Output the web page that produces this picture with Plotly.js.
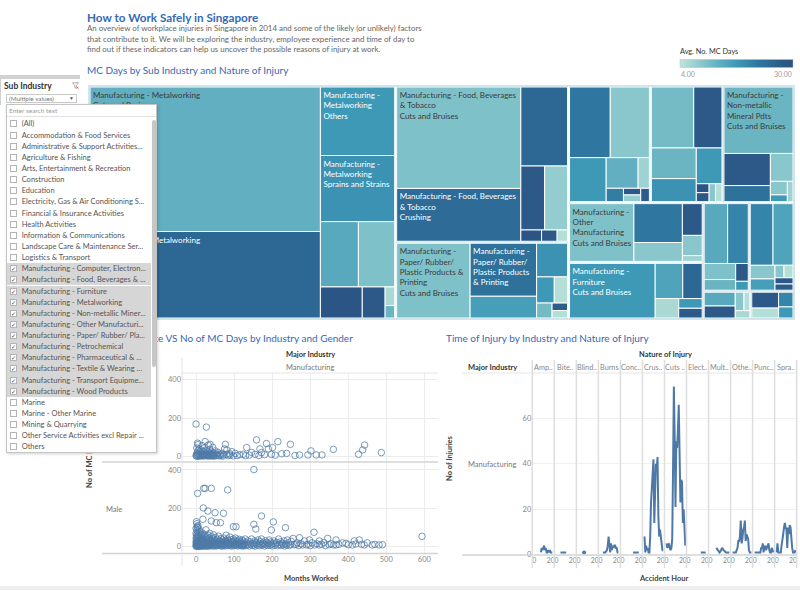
<!DOCTYPE html>
<html>
<head>
<meta charset="utf-8">
<title>How to Work Safely in Singapore</title>
<script src="https://cdn.plot.ly/plotly-3.0.1.min.js"></script>
<style>
 html,body{margin:0;padding:0;background:#fff;}
 #chart{position:absolute;left:0;top:0;width:800px;height:590px;}
 .flt{position:absolute;font-family:Lato,'Open Sans',sans-serif;}
 #fltStrip{left:0;top:75px;width:80px;height:4px;background:#d2d2d2;}
 #fltHead{left:0;top:79px;width:80px;height:26px;background:#fff;border-left:1px solid #d0d0d0;box-sizing:border-box;}
 #fltTitle{left:4px;top:81px;font-size:8.5px;font-weight:bold;color:#333;line-height:10px;white-space:nowrap;}
 #fltIcon{left:72px;top:82px;width:7px;height:7px;}
 #fltDrop{left:6px;top:94px;width:71px;height:9px;border:1px solid #c9c9c9;box-sizing:border-box;background:#fff;font-size:6.3px;color:#777;line-height:7px;padding-left:2px;white-space:nowrap;}
 #fltArrow{position:absolute;right:2px;top:0;font-size:5px;color:#555;line-height:7px;}
 #fltList{left:6px;top:104px;width:151px;height:349px;border:1px solid #c4c4c4;box-sizing:border-box;background:#fff;box-shadow:1px 1px 3px rgba(0,0,0,0.18);overflow:hidden;}
 .fSearch{position:absolute;left:2px;top:2px;font-size:6.5px;color:#9a9a9a;line-height:8px;white-space:nowrap;}
 .fLine{position:absolute;left:0;top:11px;width:149px;height:0;border-top:1px solid #e2e2e2;}
 .fRow{position:absolute;left:0;width:144px;height:11.14px;}
 .fRow.on{background:#d6d6d6;}
 .fBox{position:absolute;left:3px;top:2px;width:7px;height:7px;border:1px solid #b4b4b4;box-sizing:border-box;background:#fff;font-size:6px;line-height:5px;color:#444;text-align:center;font-family:'DejaVu Sans',sans-serif;}
 .fTxt{position:absolute;left:14.7px;top:0;line-height:11.14px;font-size:7.5px;color:#555;white-space:nowrap;}
 .fScroll{position:absolute;left:144.5px;top:15px;width:4px;height:247px;background:#c6c6c6;border-radius:2px;}
</style>
</head>
<body>
<div id="chart"></div>
<div id="fltStrip" class="flt"></div>
<div id="fltHead" class="flt"></div>
<div id="fltTitle" class="flt">Sub Industry</div>
<svg id="fltIcon" class="flt" viewBox="0 0 7 7"><path d="M0.5 0.8 H6.5 L4.2 3.6 V6.3 L2.8 5.6 V3.6 Z" fill="none" stroke="#9a9a9a" stroke-width="0.8"/><path d="M4.6 4.6 L6.6 6.6 M6.6 4.6 L4.6 6.6" stroke="#c0504d" stroke-width="0.7"/></svg>
<div id="fltDrop" class="flt">(Multiple values)<span id="fltArrow">&#9660;</span></div>
<div id="fltList" class="flt"></div>
<script>
// ---------------- DATA ----------------
const subIndustries = [
  'Manufacturing - Metalworking',
  'Manufacturing - Food, Beverages & Tobacco',
  'Manufacturing - Paper/ Rubber/ Plastic Products & Printing',
  'Manufacturing - Transport Equipment',
  'Manufacturing - Computer, Electronic & Optical Pdts',
  'Manufacturing - Non-metallic Mineral Pdts',
  'Manufacturing - Other Manufacturing',
  'Manufacturing - Furniture',
  'Manufacturing - Petrochemical',
  'Manufacturing - Wood Products',
  'Manufacturing - Pharmaceutical & Biological Pdts',
  'Manufacturing - Textile & Wearing Apparel'
];
const leafIndustry = [
  0,0,0,0,0,0,0,0,0,0,
  1,1,1,1,1,1,1,1,
  2,2,2,2,2,2,2,2,2,
  3,3,3,3,3,3,3,3,3,
  4,4,4,4,4,4,4,4,4,
  5,5,5,5,5,5,5,
  6,6,6,6,6,6,
  7,7,7,7,7,7,
  8,8,8,8,8,8,
  9,9,9,9,9,9,9,9,
  10,10,10,10,10,
  11,11,11,11
];
const leafNature = [
  'Cuts and Bruises','Crushing','Others','Sprains and Strains','Burns','Punctures','Amputation','Multiple Injuries','Electrocution','Concussion',
  'Cuts and Bruises','Crushing','Sprains and Strains','Others','Burns','Amputation','Multiple Injuries','Punctures',
  'Cuts and Bruises','Crushing','Sprains and Strains','Others','Burns','Punctures','Amputation','Multiple Injuries','Concussion',
  'Cuts and Bruises','Crushing','Sprains and Strains','Others','Burns','Amputation','Punctures','Multiple Injuries','Concussion',
  'Cuts and Bruises','Crushing','Sprains and Strains','Others','Burns','Amputation','Punctures','Multiple Injuries','Concussion',
  'Cuts and Bruises','Crushing','Others','Sprains and Strains','Burns','Punctures','Multiple Injuries',
  'Cuts and Bruises','Crushing','Sprains and Strains','Others','Burns','Punctures',
  'Cuts and Bruises','Crushing','Others','Sprains and Strains','Burns','Punctures',
  'Cuts and Bruises','Crushing','Sprains and Strains','Burns','Others','Punctures',
  'Cuts and Bruises','Crushing','Sprains and Strains','Others','Burns','Punctures','Amputation','Multiple Injuries',
  'Cuts and Bruises','Crushing','Sprains and Strains','Burns','Others',
  'Cuts and Bruises','Sprains and Strains','Crushing','Others'
];
const leafInjuries = [
  563,337,86,83,42,40,22,12,3,2,
  215,112,63,26,25,4,3,2,
  95,61,25,18,8,6,4,2,2,
  50,48,28,17,6,4,2,2,2,
  45,30,24,18,16,2,2,2,2,
  80,26,13,11,4,2,2,
  65,33,16,11,7,2,
  82,17,12,8,4,4,
  25,22,9,6,4,2,
  25,22,6,5,2,2,2,2,
  8,7,3,2,2,
  8,5,4,3
];
const leafMcDays = [
  13,25,17,18,14,10,29,28,6,12,
  10,24,25,28,8,29,28,5,
  10,23,16,18,17,5,11,27,5,
  22,9,17,13,7,21,28,8,27,
  11,28,12,18,17,29,28,9,5,
  12,28,23,9,9,17,7,
  10,22,9,28,9,7,
  17,15,25,6,17,28,
  14,20,10,12,28,17,
  20,15,9,16,9,5,28,27,
  14,28,9,5,6,
  28,5,20,17
];
const leafLabel = {
  0: 'Manufacturing - Metalworking<br>Cuts and Bruises',
  1: 'Manufacturing - Metalworking',
  2: 'Manufacturing -<br>Metalworking<br>Others',
  3: 'Manufacturing -<br>Metalworking<br>Sprains and Strains',
  10: 'Manufacturing - Food, Beverages<br>& Tobacco<br>Cuts and Bruises',
  11: 'Manufacturing - Food, Beverages<br>& Tobacco<br>Crushing',
  18: 'Manufacturing -<br>Paper/ Rubber/<br>Plastic Products &<br>Printing<br>Cuts and Bruises',
  19: 'Manufacturing -<br>Paper/ Rubber/<br>Plastic Products<br>& Printing',
  45: 'Manufacturing -<br>Non-metallic<br>Mineral Pdts<br>Cuts and Bruises',
  52: 'Manufacturing -<br>Other<br>Manufacturing<br>Cuts and Bruises',
  58: 'Manufacturing -<br>Furniture<br>Cuts and Bruises'
};
const mcDaysMin = 4, mcDaysMax = 30;

// Work experience vs MC days, [months worked, MC days]
const femalePoints = [
 [0,169],[27,153],[0,5],[1,12],[2,3],[2,45],[3,20],[4,8],[4,70],[5,30],[5,62],[6,2],[7,15],[8,40],[9,6],[10,25],[11,10],[12,4],
 [13,35],[14,18],[15,7],[16,57],[17,12],[18,3],[19,28],[20,9],[21,45],[22,14],[23,5],[24,78],[24,20],[26,8],[28,30],[29,11],
 [30,4],[31,22],[32,60],[33,7],[34,16],[35,3],[36,38],[37,64],[38,12],[39,6],[40,25],[41,9],[42,4],[43,15],[44,48],[45,7],
 [46,20],[47,3],[48,10],[50,30],[52,5],[54,14],[56,8],[58,22],[60,4],[62,12],[65,6],[68,18],[70,3],[72,9],[75,40],[77,64],
 [80,12],[81,35],[85,5],[88,15],[90,8],[94,26],[98,4],[103,17],[108,6],[115,10],[124,12],[130,5],[133,47],[140,8],[146,22],
 [155,12],[159,87],[165,6],[168,40],[172,21],[180,10],[185,68],[190,40],[198,12],[201,47],[208,8],[215,78],[225,15],[238,17],
 [248,64],[260,6],[272,9],[294,9],[302,30],[316,9],[331,9],[361,38],[427,12],[438,35],[443,60],[487,21]
];
const malePoints = [
 [0,2],[0,10],[0,25],[0,45],[0,70],[0,95],[1,5],[1,18],[1,33],[1,60],[1,130],[2,8],[2,14],[2,40],[2,85],[2,120],[3,3],[3,22],
 [3,55],[3,104],[4,12],[4,30],[4,100],[4,278],[5,6],[5,17],[5,48],[5,75],[5,110],[6,2],[6,28],[6,36],[7,9],[7,15],[7,62],[8,4],
 [8,21],[8,44],[8,90],[9,11],[9,32],[10,3],[10,19],[10,52],[10,80],[11,7],[11,26],[12,14],[12,38],[12,66],[13,5],[13,23],
 [14,10],[14,47],[15,2],[15,30],[15,58],[16,16],[16,72],[17,8],[17,35],[18,20],[18,143],[18,4],[19,202],[19,42],[20,11],
 [20,27],[20,304],[21,6],[21,55],[22,15],[22,33],[23,3],[23,64],[24,304],[24,22],[25,9],[25,40],[26,14],[26,88],[27,5],
 [27,30],[28,18],[28,50],[29,8],[30,25],[30,2],[31,186],[31,37],[32,12],[32,60],[33,20],[34,6],[34,45],[35,28],[36,10],
 [36,70],[37,16],[38,4],[38,34],[39,22],[40,304],[40,134],[40,9],[40,52],[41,14],[42,30],[43,6],[44,40],[45,18],[46,3],
 [46,62],[47,25],[48,12],[49,35],[50,177],[50,8],[50,20],[51,48],[52,15],[53,125],[53,4],[54,28],[55,10],[56,38],[57,18],
 [58,6],[59,55],[60,22],[61,12],[62,30],[63,5],[64,125],[64,16],[65,42],[66,9],[67,24],[68,3],[69,35],[70,14],[71,20],
 [72,174],[72,7],[73,45],[74,28],[75,12],[76,4],[77,33],[78,18],[79,60],[80,8],[81,25],[82,14],[83,296],[83,40],[84,5],
 [85,20],[86,30],[87,10],[88,15],[89,50],[90,6],[91,24],[92,12],[93,35],[94,3],[95,18],[96,28],[97,9],[98,104],[98,40],
 [99,14],[100,22],[101,6],[102,32],[103,12],[104,45],[105,104],[105,18],[106,8],[107,26],[108,14],[110,4],[111,30],[112,10],
 [113,20],[114,38],[115,7],[116,16],[118,25],[119,5],[120,12],[121,34],[122,8],[123,18],[124,3],[125,28],[126,10],[128,15],
 [129,40],[130,6],[132,20],[134,8],[136,30],[138,12],[140,4],[142,25],[144,15],[146,40],[148,6],[150,18],[152,402],[152,117],
 [152,10],[154,30],[155,3],[157,92],[157,22],[159,14],[161,8],[163,35],[165,18],[167,5],[169,26],[170,12],[172,160],[172,40],
 [174,9],[176,20],[178,14],[180,4],[182,30],[184,10],[186,22],[188,6],[190,16],[192,35],[194,8],[196,24],[198,87],[198,12],
 [200,4],[203,129],[203,18],[205,30],[207,8],[210,14],[212,22],[214,5],[217,40],[219,12],[222,25],[224,7],[226,18],[229,10],
 [231,30],[233,4],[235,99],[235,15],[238,9],[240,35],[242,20],[245,6],[248,12],[250,28],[255,43],[258,10],[263,12],[266,20],
 [270,6],[272,47],[276,15],[280,9],[285,30],[290,9],[294,12],[298,35],[300,5],[305,20],[310,75],[312,9],[318,15],[324,30],
 [324,9],[330,12],[336,22],[340,6],[346,43],[350,10],[355,15],[362,9],[368,35],[368,9],[375,12],[385,20],[394,17],[400,10],
 [411,9],[416,30],[420,14],[429,35],[435,12],[442,9],[450,20],[463,9],[470,12],[481,9],[490,10],[594,54]
];

// Time of injury: number of injuries by accident hour (0..23), one array per nature of injury
const accidentHours = [0,1,2,3,4,5,6,7,8,9,10,11,12,13,14,15,16,17,18,19,20,21,22,23];
const natureHeaders = ['Amp..','Bite..','Blind..','Burns','Conc..','Crus..','Cuts ..','Elect..','Mult..','Othe..','Punc..','Spra..'];
const amputationByHour = [null,null,null,null,null,null,null,null,1,3,2,3,4,2,3,1,1,2,1,2,1,1,1,null];
const bitesByHour      = [null,null,null,null,null,1,null,1,null,1,null,null,1,null,null,null,null,null,null,null,null,null,null,null];
const blindnessByHour  = [null,null,null,null,null,null,null,1,null,null,null,null,null,null,null,null,null,null,null,null,null,null,null,null];
const burnsByHour      = [null,null,null,1,null,null,1,null,2,4,8,5,1,5,2,4,3,4,4,3,3,1,1,null];
const concussionByHour = [null,null,null,null,null,null,null,null,null,null,null,null,null,1,null,1,null,1,null,null,1,null,null,null];
const crushingByHour   = [8,1,4,2,3,1,1,8,23,30,35,42,14,28,40,38,43,17,8,11,7,3,2,2];
const cutsByHour       = [5,3,4,5,3,2,3,7,38,74,52,21,50,47,55,66,45,23,33,32,14,20,12,4];
const electricByHour   = [null,null,null,null,null,null,null,null,null,null,null,null,null,null,null,1,null,null,1,null,null,1,null,null];
const multipleByHour   = [null,null,null,null,null,null,null,3,null,2,null,1,null,2,3,null,2,null,1,1,1,1,1,1];
const othersByHour     = [1,1,1,1,1,2,3,6,6,8,15,5,7,11,12,15,6,9,8,7,2,1,1,1];
const puncturesByHour  = [1,1,1,1,1,1,1,1,3,3,5,1,3,4,2,3,4,5,2,1,1,3,2,1];
const sprainsByHour    = [1,5,1,1,1,1,4,6,9,12,14,12,11,3,12,9,13,12,6,3,1,1,1,2];
const injuriesByNature = [amputationByHour,bitesByHour,blindnessByHour,burnsByHour,concussionByHour,crushingByHour,
                          cutsByHour,electricByHour,multipleByHour,othersByHour,puncturesByHour,sprainsByHour];

// Filter panel items
const filterItems = ['(All)','Accommodation & Food Services','Administrative & Support Activities...','Agriculture & Fishing',
 'Arts, Entertainment & Recreation','Construction','Education','Electricity, Gas & Air Conditioning S...',
 'Financial & Insurance Activities','Health Activities','Information & Communications','Landscape Care & Maintenance Ser...',
 'Logistics & Transport','Manufacturing - Computer, Electron...','Manufacturing - Food, Beverages & ...','Manufacturing - Furniture',
 'Manufacturing - Metalworking','Manufacturing - Non-metallic Miner...','Manufacturing - Other Manufacturi...',
 'Manufacturing - Paper/ Rubber/ Pla...','Manufacturing - Petrochemical','Manufacturing - Pharmaceutical & ...',
 'Manufacturing - Textile & Wearing ...','Manufacturing - Transport Equipme...','Manufacturing - Wood Products','Marine',
 'Marine - Other Marine','Mining & Quarrying','Other Service Activities excl Repair ...','Others'];

// ---------------- FILTER PANEL (HTML overlay) ----------------
(function(){
  const list = document.getElementById('fltList');
  const s = document.createElement('div'); s.className='fSearch'; s.textContent='Enter search text'; list.appendChild(s);
  const l = document.createElement('div'); l.className='fLine'; list.appendChild(l);
  filterItems.forEach((name,i)=>{
    const on = name.indexOf('Manufacturing -') === 0;
    const row = document.createElement('div');
    row.className = 'fRow' + (on ? ' on' : '');
    row.style.top = (13.4 + 11.14*i) + 'px';
    const b = document.createElement('div'); b.className='fBox'; b.textContent = on ? '\u2713' : '';
    const t = document.createElement('div'); t.className='fTxt'; t.textContent = name;
    row.appendChild(b); row.appendChild(t); list.appendChild(row);
  });
  const sc = document.createElement('div'); sc.className='fScroll'; list.appendChild(sc);
})();

// ---------------- PLOT ----------------
const W = 800, H = 590;
const px = x => x / W;
const py = y => 1 - y / H;
const FONT = 'Lato, "Open Sans", sans-serif';
const TITLE_BLUE = '#3569b5';
const MARK = '#4e79a7';
const TICKFONT = {family: FONT, size: 7.5, color: '#888'};
const HOURTICKFONT = {family: FONT, size: 6.8, color: '#888'};

const blueTeal = [[0,'#bfe5da'],[0.23,'#7fc1c9'],[0.35,'#60aec0'],[0.5,'#3e99b6'],[0.69,'#2f77a0'],[0.9,'#2c5b88'],[1,'#2b5282']];

// treemap hierarchy built from the arrays (ids carry the names; header labels are left blank as in the reference)
const ids = ['Manufacturing'], labels = [''], parents = [''], values = [0], colors = [],
      texts = [''], templates = [''], textColors = ['#333'];
const grpSum = subIndustries.map(()=>0), grpW = subIndustries.map(()=>0);
leafInjuries.forEach((v,k)=>{ grpSum[leafIndustry[k]] += v; grpW[leafIndustry[k]] += v*leafMcDays[k]; });
const totalInj = grpSum.reduce((a,b)=>a+b,0);
colors.push(grpW.reduce((a,b)=>a+b,0)/totalInj);
subIndustries.forEach((s,i)=>{
  ids.push(s); labels.push(''); parents.push('Manufacturing'); values.push(0);
  colors.push(grpW[i]/grpSum[i]); texts.push(''); templates.push(''); textColors.push('#333');
});
leafInjuries.forEach((v,k)=>{
  ids.push(subIndustries[leafIndustry[k]] + ' | ' + leafNature[k]); labels.push(leafNature[k]);
  parents.push(subIndustries[leafIndustry[k]]); values.push(v);
  colors.push(leafMcDays[k]);
  texts.push(leafLabel[k] || '');
  templates.push(leafLabel[k] ? '%{text}' : '');
  textColors.push(leafMcDays[k] > 15 ? '#ffffff' : '#3a3a3a');
});

const traces = [];
traces.push({
  type: 'treemap', ids, labels, parents, values, branchvalues: 'remainder',
  text: texts, texttemplate: templates, textinfo: 'text', textposition: 'top left',
  textfont: {family: FONT, size: 8, color: textColors},
  marker: {
    colors, colorscale: blueTeal, cmin: mcDaysMin, cmax: mcDaysMax, showscale: true,
    line: {color: '#ffffff', width: 1}, pad: {t: 1, l: 1, r: 1, b: 1},
    colorbar: {
      orientation: 'h', thickness: 7.6, thicknessmode: 'pixels', len: 113, lenmode: 'pixels',
      x: px(736.5), xanchor: 'center', y: py(68.3), yanchor: 'bottom', xpad: 0, ypad: 0,
      outlinewidth: 0.5, outlinecolor: '#bbbbbb', showticklabels: false, ticks: '',
      title: {text: ''}
    }
  },
  tiling: {packing: 'squarify', squarifyratio: 1.618, pad: 0},
  pathbar: {visible: false}, sort: true,
  domain: {x: [px(88), px(795)], y: [py(320), py(85)]},
  hoverinfo: 'skip'
});

const scatterMarker = {symbol: 'circle-open', size: 6.5, color: 'rgba(78,121,167,0.75)', line: {width: 1}};
traces.push({type: 'scatter', mode: 'markers', x: femalePoints.map(p=>p[0]), y: femalePoints.map(p=>p[1]),
  xaxis: 'x', yaxis: 'y', marker: scatterMarker, hoverinfo: 'skip', showlegend: false});
traces.push({type: 'scatter', mode: 'markers', x: malePoints.map(p=>p[0]), y: malePoints.map(p=>p[1]),
  xaxis: 'x2', yaxis: 'y2', marker: scatterMarker, hoverinfo: 'skip', showlegend: false});

const panelLeft = 532.3, panelW = 22.03;
injuriesByNature.forEach((series,k)=>{
  const nPts = series.filter(v=>v!==null).length;
  traces.push({type: 'scatter', mode: nPts > 1 ? 'lines' : 'markers', x: accidentHours, y: series,
    connectgaps: true, xaxis: 'x'+(k+3), yaxis: 'y3',
    line: {color: MARK, width: 2}, marker: {color: MARK, size: 4},
    hoverinfo: 'skip', showlegend: false});
});

const layout = {
  width: W, height: H, margin: {l:0, r:0, t:0, b:0},
  paper_bgcolor: '#ffffff', plot_bgcolor: 'rgba(0,0,0,0)',
  font: {family: FONT, color: '#555'},
  showlegend: false,
  uniformtext: {mode: 'show', minsize: 8},
  xaxis: {domain: [px(182), px(438)], anchor: 'y', range: [-37, 636], tickvals: [0,100,200,300,400,500,600],
    showticklabels: false, gridcolor: '#ececec', zeroline: false, ticks: '', fixedrange: true},
  yaxis: {domain: [py(461.7), py(373)], anchor: 'x', range: [-26, 433], tickvals: [0,200,400],
    gridcolor: '#ececec', zeroline: false, tickfont: TICKFONT, ticks: ''},
  xaxis2: {domain: [px(182), px(438)], anchor: 'y2', range: [-37, 636], tickvals: [0,100,200,300,400,500,600],
    gridcolor: '#ececec', zeroline: false, tickfont: TICKFONT, ticks: ''},
  yaxis2: {domain: [py(553), py(462.7)], anchor: 'x2', range: [-33, 438], tickvals: [0,200,400],
    gridcolor: '#ececec', zeroline: false, tickfont: TICKFONT, ticks: ''},
  yaxis3: {domain: [py(554.7), py(373)], anchor: 'x3', range: [0, 80], tickvals: [0,20,40,60],
    gridcolor: '#f0f0f0', zeroline: false, tickfont: TICKFONT, ticks: ''},
  shapes: [], annotations: []
};
natureHeaders.forEach((h,k)=>{
  layout['xaxis'+(k+3)] = {domain: [px(panelLeft + panelW*k), px(panelLeft + panelW*(k+1))], anchor: 'y3',
    range: [-2.5, 24.5], tickvals: [0, 20], showgrid: false, zeroline: false, tickfont: HOURTICKFONT, ticks: ''};
});

function line(x0,y0,x1,y1,color,width){
  layout.shapes.push({type:'line', xref:'paper', yref:'paper', x0:px(x0), y0:py(y0), x1:px(x1), y1:py(y1),
    line:{color:color, width:width}, layer:'above'});
}
// scatter pane borders
line(182,373,438,373,'#e6e6e6',1);
line(102,462,438,462,'#d3d3d3',1.5);
line(102,553.5,438,553.5,'#d3d3d3',1.5);
line(182,358,182,566,'#e2e2e2',1);
// time pane borders
line(462,373,797,373,'#e6e6e6',1);
line(462,555,797,555,'#d3d3d3',1.5);
for (let k=0;k<=12;k++){ const xx = panelLeft + panelW*k; line(xx,360,xx,568,'#dedede',1.5); }
// bottom strip
layout.shapes.push({type:'rect', xref:'paper', yref:'paper', x0:0, x1:1, y0:0, y1:py(586), fillcolor:'#efefef', line:{width:0}, layer:'above'});

function ann(text,x,y,o){
  o = o || {};
  layout.annotations.push(Object.assign({text:text, xref:'paper', yref:'paper', x:px(x), y:py(y), showarrow:false,
    xanchor:'left', yanchor:'middle', font:{family:FONT, size:7.5, color:'#777'}}, o));
}
ann('<b>How to Work Safely in Singapore</b>', 85, 17, {font:{family:FONT, size:11.7, color:TITLE_BLUE}});
ann('An overview of workplace injuries in Singapore in 2014 and some of the likely (or unlikely) factors', 85, 28.5, {font:{family:FONT, size:7.9, color:'#666'}});
ann('that contribute to it. We will be exploring the industry, employee experience and time of day to', 85, 38.8, {font:{family:FONT, size:7.9, color:'#666'}});
ann('find out if these indicators can help us uncover the possible reasons of injury at work.', 85, 49, {font:{family:FONT, size:7.9, color:'#666'}});
ann('MC Days by Sub Industry and Nature of Injury', 85, 70, {font:{family:FONT, size:10, color:TITLE_BLUE}});
ann('Work Experience VS No of MC Days by Industry and Gender', 86, 337.5, {font:{family:FONT, size:10, color:TITLE_BLUE}});
ann('Time of Injury by Industry and Nature of Injury', 444, 337.5, {font:{family:FONT, size:10, color:TITLE_BLUE}});
ann('Avg. No. MC Days', 678, 52, {font:{family:FONT, size:7.3, color:'#333'}});
ann(mcDaysMin.toFixed(2), 679, 74, {font:{family:FONT, size:7, color:'#999'}});
ann(mcDaysMax.toFixed(2), 794, 74, {xanchor:'right', font:{family:FONT, size:7, color:'#999'}});
// scatter headers
ann('<b>Major Industry</b>', 310, 355, {xanchor:'center', font:{family:FONT, size:7.5, color:'#333'}});
ann('Manufacturing', 310, 367, {xanchor:'center'});
ann('Female', 104, 417);
ann('Male', 104, 509);
ann('<b>No of MC Days</b>', 89, 463, {xanchor:'center', textangle:-90, font:{family:FONT, size:7.5, color:'#444'}});
ann('<b>Months Worked</b>', 311, 578, {xanchor:'center', font:{family:FONT, size:7.5, color:'#444'}});
// time headers
ann('<b>Nature of Injury</b>', 665, 355, {xanchor:'center', font:{family:FONT, size:7.5, color:'#333'}});
ann('<b>Major Industry</b>', 466, 367, {font:{family:FONT, size:7.5, color:'#333'}});
natureHeaders.forEach((h,k)=>{ ann(h, panelLeft + panelW*(k+0.5), 367, {xanchor:'center', font:{family:FONT, size:7.3, color:'#888'}}); });
ann('Manufacturing', 466, 464);
ann('<b>No of Injuries</b>', 449, 458, {xanchor:'center', textangle:-90, font:{family:FONT, size:7.5, color:'#444'}});
ann('<b>Accident Hour</b>', 663, 578, {xanchor:'center', font:{family:FONT, size:7.5, color:'#444'}});

Plotly.newPlot('chart', traces, layout, {staticPlot: true, displayModeBar: false});
</script>
</body>
</html>
